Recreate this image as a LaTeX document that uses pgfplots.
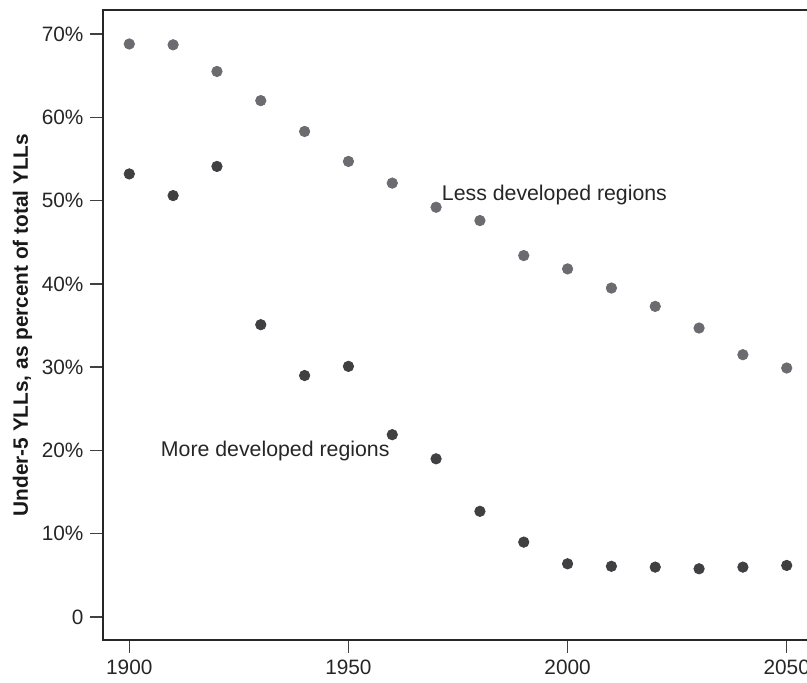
\documentclass[border=0pt]{standalone}
\usepackage{fontspec}
\setmainfont{Liberation Sans}
\usepackage{pgfplots}
\pgfplotsset{compat=1.18}
\definecolor{lessc}{RGB}{108,108,112}
\definecolor{morec}{RGB}{64,64,66}
\begin{document}
\begin{tikzpicture}
\begin{axis}[
  scale only axis, width=368.1pt, height=315pt,
  xmin=1894, xmax=2062, ymin=-2.76, ymax=72.88,
  clip=false,
  axis line style={line width=0.8pt, black!85},
  xtick={1900,1950,2000,2050}, xticklabels={1900,1950,2000,2050},
  ytick={0,10,20,30,40,50,60,70},
  yticklabels={0,10\%,20\%,30\%,40\%,50\%,60\%,70\%},
  tick align=outside, xtick pos=bottom, ytick pos=left,
  major tick length=6.25pt,
  every tick/.style={line width=0.7pt, black!75},
  tick label style={font=\fontsize{10.4}{12}\selectfont, text=black!85},
  /pgf/number format/assume math mode=true,
  ylabel={Under-5 YLLs, as percent of total YLLs},
  every axis y label/.style={at={(axis description cs:-0.1019,0.5)}, rotate=90, anchor=base, font=\bfseries\fontsize{10.4}{12}\selectfont, text=black!90},
]
\addplot[only marks, mark=*, mark size=2.6pt, color=lessc, mark options={draw=none, fill=lessc}] coordinates {
(1900,68.8) (1910,68.7) (1920,65.5) (1930,62.0) (1940,58.3) (1950,54.7)
(1960,52.1) (1970,49.2) (1980,47.6) (1990,43.4) (2000,41.8) (2010,39.5)
(2020,37.3) (2030,34.7) (2040,31.5) (2050,29.9)};
\addplot[only marks, mark=*, mark size=2.6pt, color=morec, mark options={draw=none, fill=morec}] coordinates {
(1900,53.2) (1910,50.6) (1920,54.1) (1930,35.1) (1940,29.0) (1950,30.1)
(1960,21.9) (1970,19.0) (1980,12.7) (1990,9.0) (2000,6.4) (2010,6.1)
(2020,6.0) (2030,5.8) (2040,6.0) (2050,6.2)};
\node[anchor=base, font=\fontsize{10.65}{12}\selectfont, text=black!85] at (axis cs:1997.0,49.98) {Less developed regions};
\node[anchor=base, font=\fontsize{10.65}{12}\selectfont, text=black!85] at (axis cs:1933.3,19.24) {More developed regions};
\coordinate (bl) at (axis cs:1870.5,-7.80);
\coordinate (tr) at (axis cs:2054.63,74.08);
\end{axis}
\pgfresetboundingbox
\useasboundingbox (bl) rectangle (tr);
\end{tikzpicture}
\end{document}
